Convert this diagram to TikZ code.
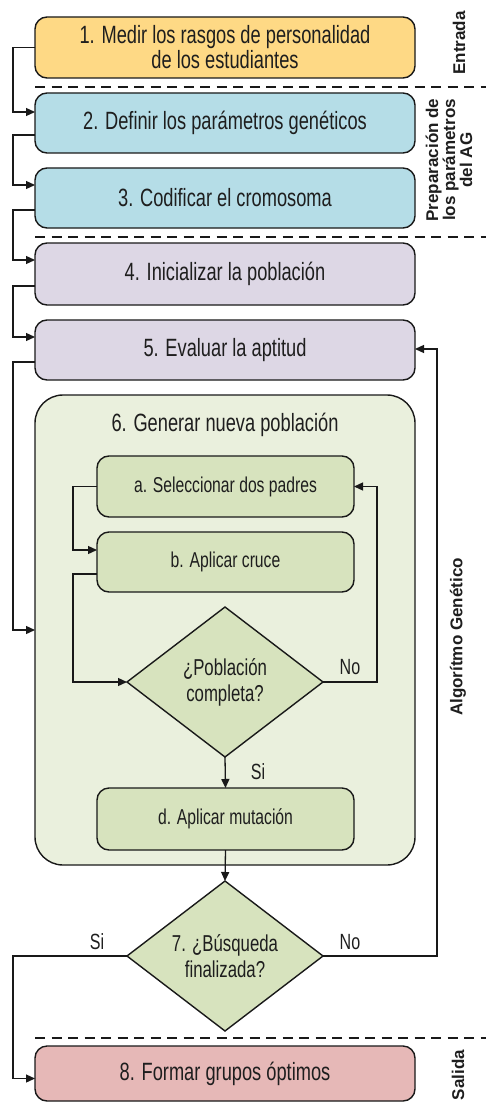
\documentclass[tikz,border=0pt]{standalone}
\usepackage{fontspec}
\setmainfont{Liberation Sans}[FakeStretch=0.73]
\newfontfamily\tagfont{Liberation Sans}
\usetikzlibrary{arrows.meta,shapes.geometric}

\definecolor{ink}{RGB}{30,30,30}
\definecolor{edge}{RGB}{25,25,25}
\definecolor{yel}{RGB}{254,217,133}
\definecolor{blu}{RGB}{181,221,231}
\definecolor{lav}{RGB}{221,215,229}
\definecolor{grp}{RGB}{234,240,221}
\definecolor{subfill}{RGB}{215,227,190}
\definecolor{pnk}{RGB}{230,184,183}

\begin{document}
\begin{tikzpicture}[x=1pt,y=-1pt,
  box/.style={draw=edge, line width=1.4pt, rounded corners=12pt,
    minimum width=380pt, minimum height=60pt, inner sep=0pt, outer sep=0pt,
    text=ink, align=center, font=\fontsize{25}{25}\selectfont},
  sub/.style={box, minimum width=257pt, fill=subfill,
    font=\fontsize{21.5}{24}\selectfont},
  dec/.style={draw=edge, line width=1.4pt, diamond, aspect=1.3,
    minimum width=196pt, minimum height=150pt, inner sep=0pt, outer sep=0pt,
    fill=subfill, text=ink, align=center, font=\fontsize{23}{26}\selectfont},
  lab/.style={text=ink, inner sep=0pt, font=\fontsize{22}{24}\selectfont},
  tag/.style={rotate=90, text=ink, inner sep=0pt, align=center,
    font=\tagfont\bfseries\fontsize{17}{14}\selectfont},
  arr/.style={draw=edge, line width=1.3pt, -{Triangle[length=9pt,width=8pt]}},
  sep/.style={draw=edge, line width=1.5pt, dash pattern=on 10pt off 6.5pt}]

% canvas
\fill[white] (0,0) rectangle (486,1102);
\useasboundingbox (0,0) rectangle (486,1102);

% section separators
\draw[sep] (35,87) -- (486,87);
\draw[sep] (35,237) -- (486,237);
\draw[sep] (35,1038) -- (486,1038);

% main steps
\node[box, fill=yel, minimum height=61pt] (s1) at (225,47.5)
  {1. Medir los rasgos de personalidad\\de los estudiantes};
\node[box, fill=blu] (s2) at (225,123) {2. Definir los parámetros genéticos};
\node[box, fill=blu] (s3) at (225,198) {3. Codificar el cromosoma};
\node[box, fill=lav, minimum height=62pt] (s4) at (225,274) {4. Inicializar la población};
\node[box, fill=lav] (s5) at (225,350) {5. Evaluar la aptitud};

% step 6 container and its sub-steps
\node[box, fill=grp, minimum height=470pt, rounded corners=28pt] (s6) at (225,630) {};
\node[text=ink, inner sep=0pt, font=\fontsize{25}{25}\selectfont] (s6t) at (225,425)
  {6. Generar nueva población};
\node[sub, minimum height=61pt] (sa) at (225.5,486.5) {a. Seleccionar dos padres};
\node[sub] (sb) at (225.5,562) {b. Aplicar cruce};
\node[dec] (sc) at (225,682) {¿Población\\completa?};
\node[sub, minimum height=62pt] (sd) at (225.5,819) {d. Aplicar mutación};

% stop test and output
\node[dec] (s7) at (225,956) {7. ¿Búsqueda\\finalizada?};
\node[box, fill=pnk, minimum height=55pt] (s8) at (225,1073.5) {8. Formar grupos óptimos};

% left-hand chain
\draw[arr] (s1.west) -- ++(-22,0) |- ([yshift=11pt]s2.west);
\draw[arr] ([yshift=-12pt]s2.west) -- ++(-22,0) |- ([yshift=13pt]s3.west);
\draw[arr] ([yshift=-12pt]s3.west) -- ++(-22,0) |- ([yshift=14pt]s4.west);
\draw[arr] ([yshift=-12pt]s4.west) -- ++(-22,0) |- ([yshift=13pt]s5.west);
\draw[arr] ([yshift=-12pt]s5.west) -- ++(-22,0) |- (s6.west);

% inner loop
\draw[arr] (sa.west) -- ++(-24,0) |- ([yshift=12pt]sb.west);
\draw[arr] ([yshift=-12pt]sb.west) -- ++(-24,0) |- (sc.west);
\draw[arr] (sc.east) -- ++(54,0) |- (sa.east);
\draw[arr] (sc.south) -- (sd.north);
\draw[arr] (sd.south) -- (s7.north);

% outer loop and exit
\draw[arr] (s7.east) -- ++(114,0) |- ([yshift=1pt]s5.east);
\draw[arr] (s7.west) -- ++(-114,0) |- ([yshift=-5pt]s8.west);

% branch labels
\node[lab] (no1) at (350,667) {No};
\node[lab] (si1) at (258,772) {Si};
\node[lab] (si2) at (97,942) {Si};
\node[lab] (no2) at (350,942) {No};

% phase tags
\node[tag] (tEnt) at (459,43) {Entrada};
\node[tag] (tPre) at (449,160) {Preparación de\\los parámetros\\del AG};
\node[tag] (tAlg) at (458,637) {Algorítmo Genético};
\node[tag] (tSal) at (458,1075) {Salida};
\end{tikzpicture}
\end{document}
